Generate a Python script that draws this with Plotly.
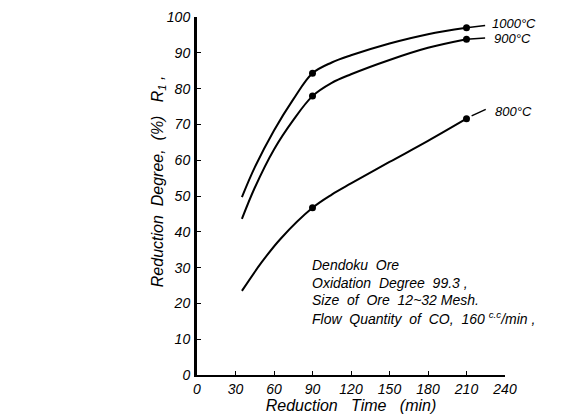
import plotly.graph_objects as go

# Data (reduction time in min, reduction degree in %)
t_1000 = [35, 45, 60, 75, 90, 105, 120, 150, 180, 210]
r_1000 = [49.7, 58.0, 68.3, 77.0, 84.3, 87.3, 89.3, 92.6, 95.2, 97.0]
t_900 = [35, 45, 60, 75, 90, 105, 120, 150, 180, 210]
r_900 = [43.6, 52.3, 63.0, 71.2, 77.9, 81.6, 84.0, 88.0, 91.4, 93.8]
t_800 = [35, 50, 65, 90, 105, 120, 150, 180, 210]
r_800 = [23.5, 31.3, 38.0, 46.7, 50.4, 53.5, 59.5, 65.4, 71.6]

marker_times = [90, 210]
m_1000 = [84.3, 97.0]
m_900 = [77.9, 93.8]
m_800 = [46.7, 71.6]

series_labels = ["1000°C", "900°C", "800°C"]
label_x = [228.5, 230, 230.5]
label_y = [98.2, 93.9, 73.6]
leader_x = [[210, 224.5], [210, 224.5], [214, 225]]
leader_y = [[97.0, 97.6], [93.8, 94.1], [72.4, 74.2]]

x_ticks = [0, 30, 60, 90, 120, 150, 180, 210, 240]
y_ticks = [0, 10, 20, 30, 40, 50, 60, 70, 80, 90, 100]

note_lines = [
    "Dendoku&nbsp; Ore",
    "Oxidation&nbsp; Degree&nbsp; 99.3 ,",
    "Size&nbsp; of&nbsp; Ore&nbsp; 12~32 Mesh.",
    "Flow&nbsp; Quantity&nbsp; of&nbsp; CO,&nbsp; 160 <sup>c.c</sup>/min ,",
]

FONT = "Liberation Sans"
fig = go.Figure()

for ts, ys in ((t_1000, r_1000), (t_900, r_900), (t_800, r_800)):
    fig.add_trace(go.Scatter(x=ts, y=ys, mode="lines",
                             line=dict(color="black", width=2, shape="spline", smoothing=1.0),
                             showlegend=False, hoverinfo="skip"))
for ms in (m_1000, m_900, m_800):
    fig.add_trace(go.Scatter(x=marker_times, y=ms, mode="markers",
                             marker=dict(color="black", size=7),
                             showlegend=False, hoverinfo="skip"))
for lx, ly in zip(leader_x, leader_y):
    fig.add_trace(go.Scatter(x=lx, y=ly, mode="lines",
                             line=dict(color="black", width=1.5),
                             showlegend=False, hoverinfo="skip", cliponaxis=False))

for t, x, y in zip(series_labels, label_x, label_y):
    fig.add_annotation(x=x, y=y, text=t, showarrow=False, xanchor="left", yanchor="middle",
                       font=dict(family=FONT, size=13, color="black", style="italic"))

for i, line in enumerate(note_lines):
    fig.add_annotation(x=88, y=30.7 - i * 4.9, text=line, showarrow=False,
                       xanchor="left", yanchor="middle",
                       font=dict(family=FONT, size=14, color="black", style="italic"))

fig.add_annotation(xref="paper", yref="paper", x=-0.125, y=0.54,
                   text="Reduction&nbsp; Degree,&nbsp; (%)&nbsp;&nbsp; R<sub>1</sub> ,",
                   textangle=-90, showarrow=False, xanchor="center", yanchor="middle",
                   font=dict(family=FONT, size=16, color="black", style="italic"))

fig.update_layout(
    width=562, height=417,
    margin=dict(l=189, r=65, t=9, b=50),
    paper_bgcolor="white", plot_bgcolor="white",
    xaxis=dict(range=[0, 240], tickvals=x_ticks, ticks="inside", ticklen=4, tickcolor="black",
               showline=True, linecolor="black", linewidth=2, showgrid=False, zeroline=False,
               automargin=False,
               tickfont=dict(family=FONT, size=14, color="black", style="italic"),
               title=dict(text="Reduction&nbsp;  Time&nbsp;  (min)", standoff=0,
                          font=dict(family=FONT, size=16, color="black", style="italic"))),
    yaxis=dict(range=[0, 100], tickvals=y_ticks, ticks="inside", ticklen=4, tickcolor="black",
               showline=True, linecolor="black", linewidth=3, showgrid=False, zeroline=False,
               automargin=False,
               tickfont=dict(family=FONT, size=14, color="black", style="italic"),
               ticklabelstandoff=1),
)

fig.write_html("out.html")
